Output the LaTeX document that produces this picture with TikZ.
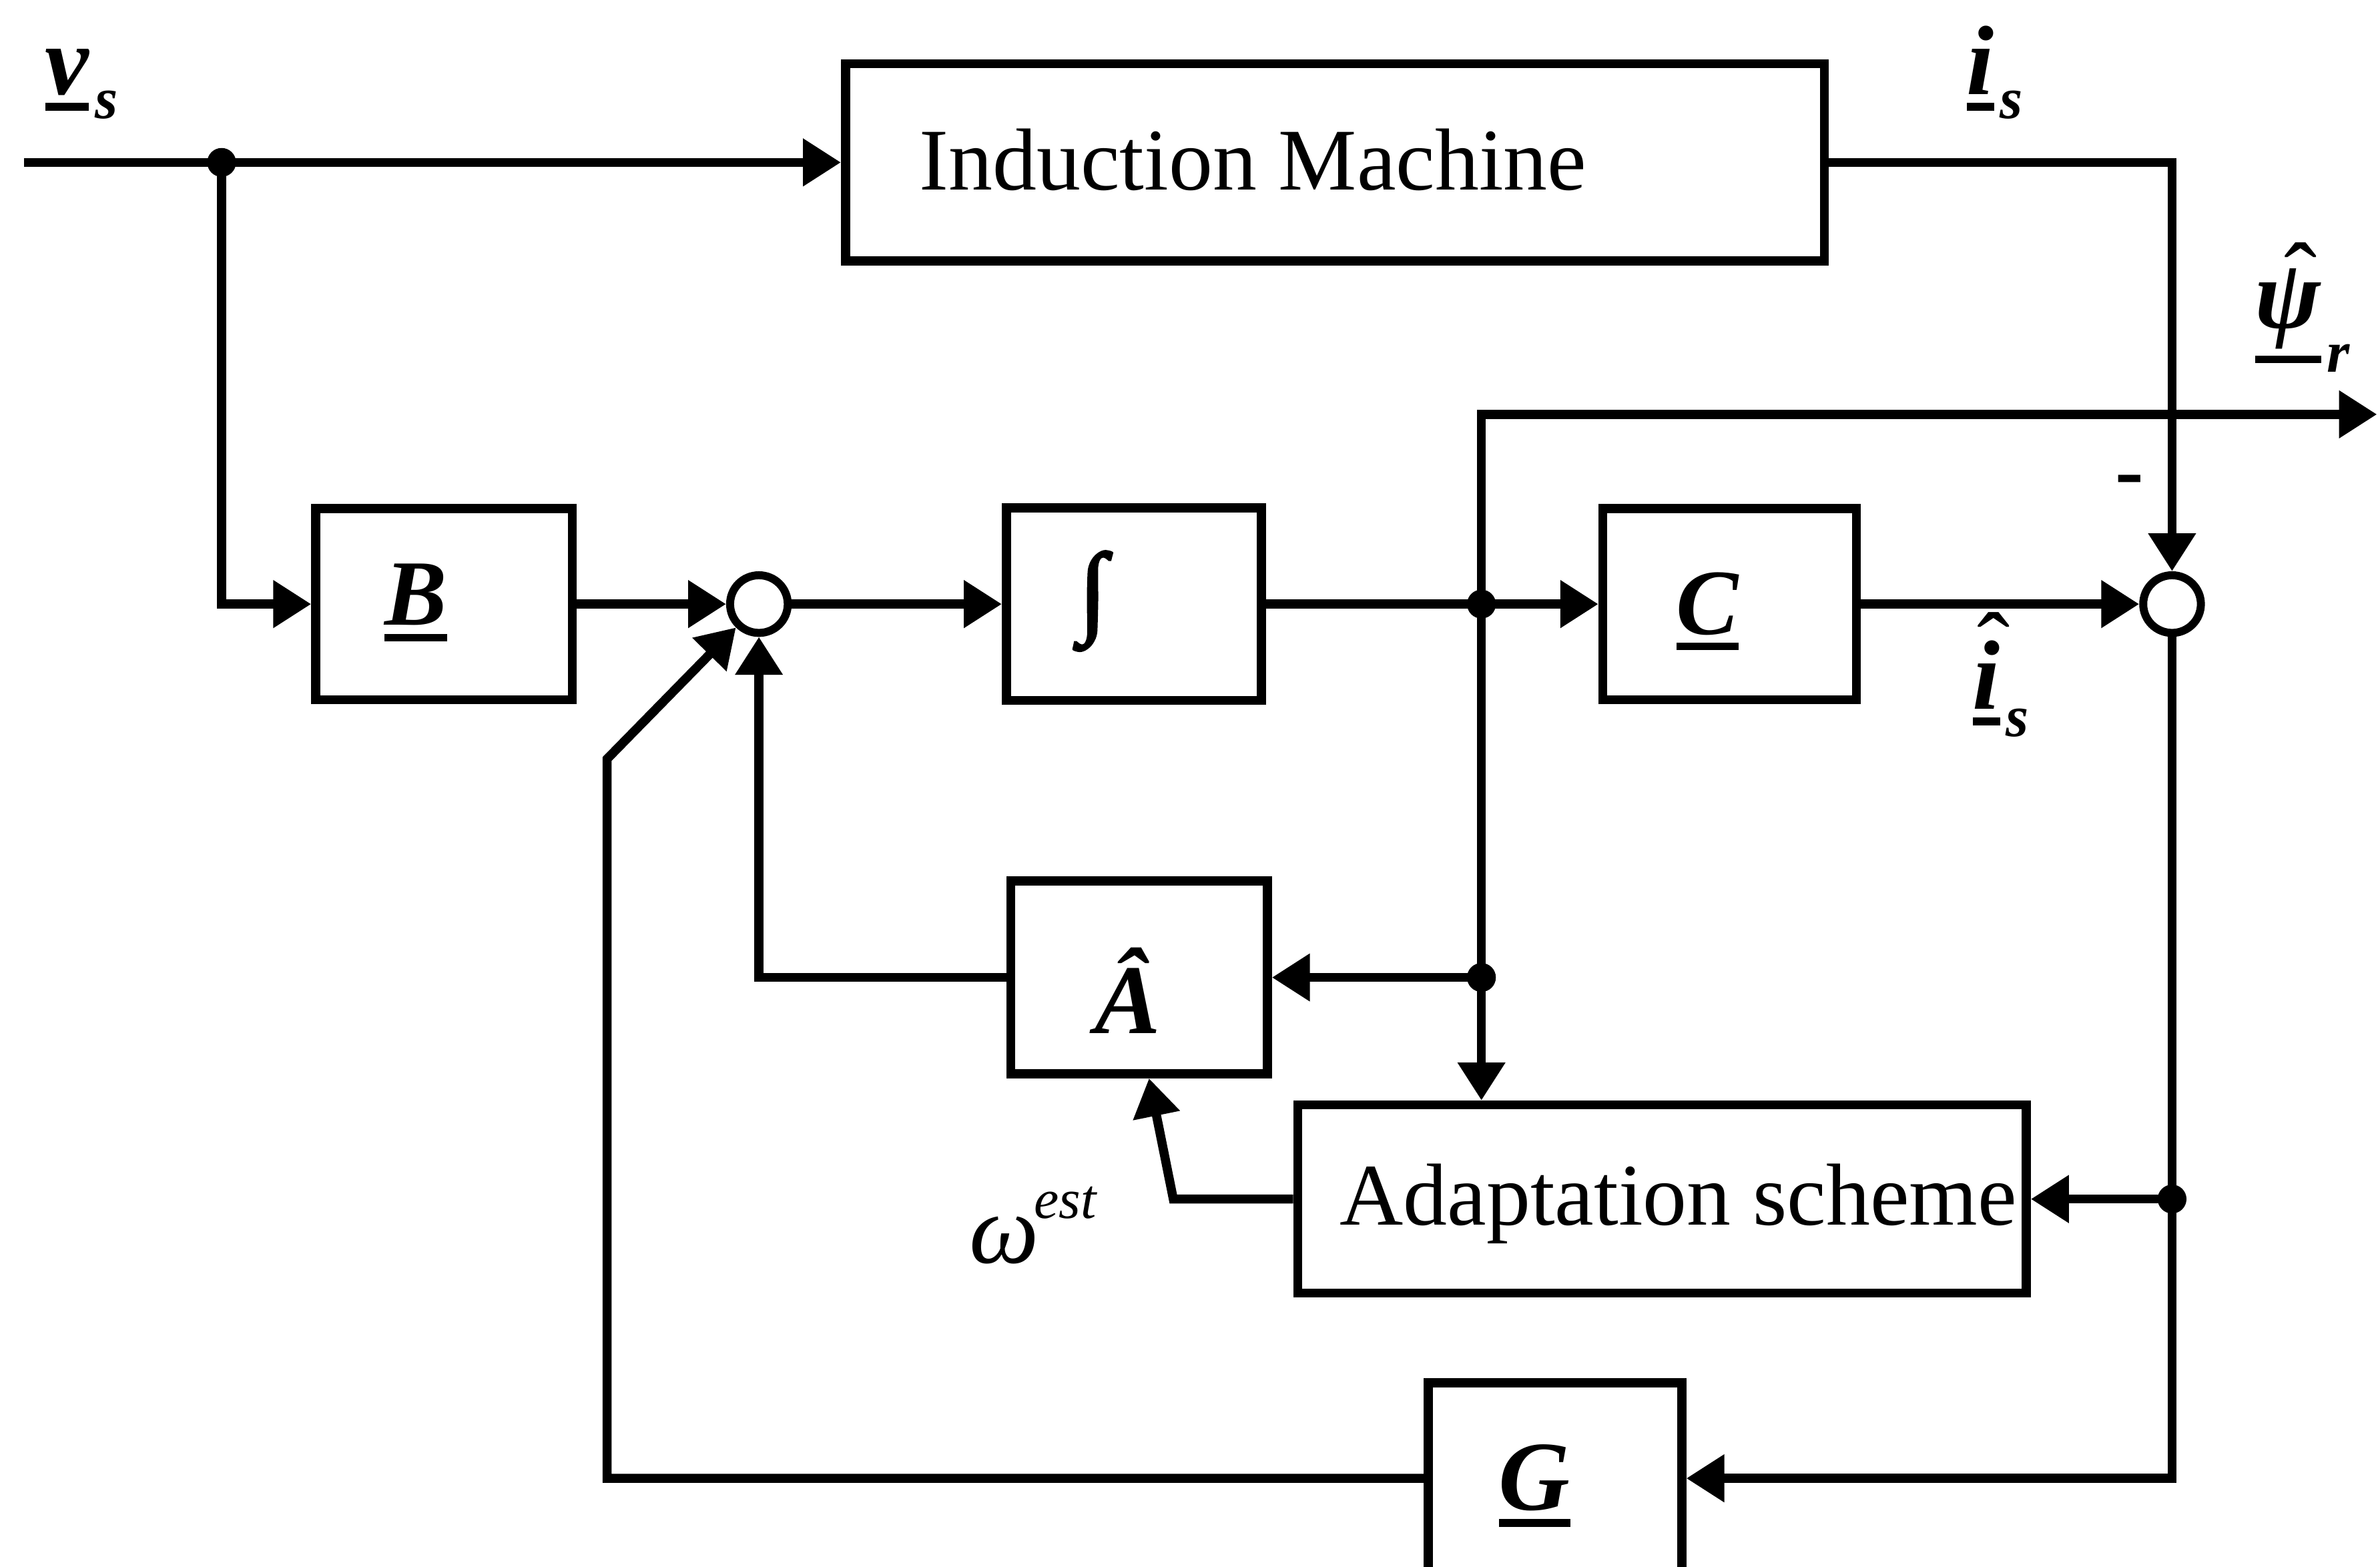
\documentclass[tikz,border=0pt]{standalone}
\usepackage{fontspec}
\setmainfont{Liberation Serif}
\newfontfamily\intfont[FakeBold=2.5]{Liberation Serif}
\usetikzlibrary{arrows.meta}
\newcommand{\ubar}[2][0.17em]{\setbox0=\hbox{#2}\leavevmode\rlap{\raisebox{-#1}{\rule{\wd0}{0.08em}}}\box0}
\newcommand{\sbs}[2][0.25em]{\hspace{0.06em}\raisebox{-#1}{\fontsize{11}{11}\selectfont\bfseries\itshape #2}}
\newcommand{\hatx}[3][0em]{\setbox2=\hbox{#3}\leavevmode\rlap{\hbox to\wd2{\hss\hspace*{#1}\raisebox{#2}{ˆ}\hss}}\box2}
\tikzset{
  blk/.style={draw, line width=1.7pt, rectangle, inner sep=0pt},
  sumj/.style={draw, line width=1.5pt, circle, minimum size=3.8mm, inner sep=0pt},
  wire/.style={line width=1.7pt},
  arr/.style={wire, -{Triangle[length=2.5mm,width=3.0mm]}},
  lbl/.style={inner sep=0pt, font=\fontsize{16.5}{19}\selectfont},
  sig/.style={inner sep=0pt, font=\fontsize{18.5}{22}\selectfont},
  blet/.style={inner sep=0pt, font=\fontsize{17.5}{20}\selectfont},
}
\begin{document}
\begin{tikzpicture}[x=0.1mm,y=-0.1mm]
\useasboundingbox (0,0) rectangle (1568,1032);
\fill[white] (0,0) rectangle (1568,1032);
\clip (0,0) rectangle (1568,1032);

% blocks
\node[blk, minimum width=64.5mm, minimum height=13mm] (IM) at (879.5,107) {};
\node[lbl, anchor=base west] (IMt) at (605,125) {Induction Machine};
\node[blk, minimum width=16.9mm, minimum height=12.6mm] (B) at (292.5,398) {};
\node[blk, minimum width=16.8mm, minimum height=12.7mm] (Int) at (747,398) {};
\node[blk, minimum width=16.7mm, minimum height=12.6mm] (C) at (1139.5,398) {};
\node[blk, minimum width=16.9mm, minimum height=12.7mm] (Ahat) at (750.5,644) {};
\node[blk, minimum width=48mm, minimum height=12.4mm] (Ad) at (1095,790) {};
\node[lbl, anchor=base west] (Adt) at (882,807) {Adaptation scheme};
\node[blk, minimum width=16.7mm, minimum height=12.6mm] (G) at (1024.5,974) {};
\node[sumj] (S1) at (500,398) {};
\node[sumj] (S2) at (1431,398) {};

% block labels
\node[blet, anchor=base] (Bl) at (274,412) {\ubar{\bfseries\itshape B}};
\node[inner sep=0pt, font=\fontsize{19}{22}\intfont] (Il) at (720,396) {∫};
\node[blet, anchor=base] (Cl) at (1125,418) {\ubar{\bfseries\itshape C}};
\node[sig, anchor=base] (Al) at (743,681) {\bfseries\itshape Â};
\node[sig, anchor=base] (Gl) at (1011,995) {\ubar{\bfseries\itshape G}};

% signal labels
\node[sig, anchor=base west] (vs) at (29,62) {\ubar{\bfseries\itshape v}\sbs{s}};
\node[sig, anchor=base west] (is) at (1295,62) {\ubar{\bfseries\itshape i}\sbs{s}};
\node[sig, anchor=base west] (psi) at (1485,216) {\ubar[0.36em]{\hatx[0.25em]{0.17em}{\bfseries\itshape ψ}}\sbs[0.45em]{r}};
\node[sig, anchor=base west] (ish) at (1299,467) {\ubar{\hatx[0.15em]{0.28em}{\bfseries\itshape i}}\sbs[0.28em]{s}};
\node[sig, anchor=base west] (om) at (638,832) {\itshape ω\hspace{-0.05em}\raisebox{0.45em}{\fontsize{10.5}{11}\selectfont est}};
\node[inner sep=0pt, font=\fontsize{16}{18}\selectfont\bfseries] (minus) at (1403,321) {-};

% coordinates
\coordinate (vin) at (16,107);
\coordinate (j1) at (146,107);
\coordinate (j2) at (976,398);
\coordinate (j3) at (976,644);
\coordinate (j4) at (1431,790);
\coordinate (psiout) at (1566,273);
\coordinate (k1) at (773,790);
\coordinate (k2) at (400,974);
\coordinate (k3) at (400,500);

% connectors
\draw[arr] (vin) -- (IM.west);
\draw[arr] (j1) |- (B.west);
\draw[arr] (B.east) -- (S1.west);
\draw[arr] (S1.east) -- (Int.west);
\draw[arr] (Int.east) -- (C.west);
\draw[arr] (C.east) -- (S2.west);
\draw[arr] (IM.east) -| (S2.north);
\draw[arr] (j2) |- (psiout);
\draw[arr] (j2) -- (j2 |- Ad.north);
\draw[arr] (j3) -- (Ahat.east |- j3);
\draw[arr] (Ahat.west) -| (S1.south);
\draw[arr] (Ad.west) -- (k1) -- ([xshift=0.65mm]Ahat.south);
\draw[arr] (S2.south) |- (G.east);
\draw[arr] (j4) -- (Ad.east);
\draw[arr] (G.west) -- (k2) -- (k3) -- (S1);

% junction dots
\foreach \p in {j1,j2,j3,j4} \fill (\p) circle (0.95mm);
\end{tikzpicture}
\end{document}
